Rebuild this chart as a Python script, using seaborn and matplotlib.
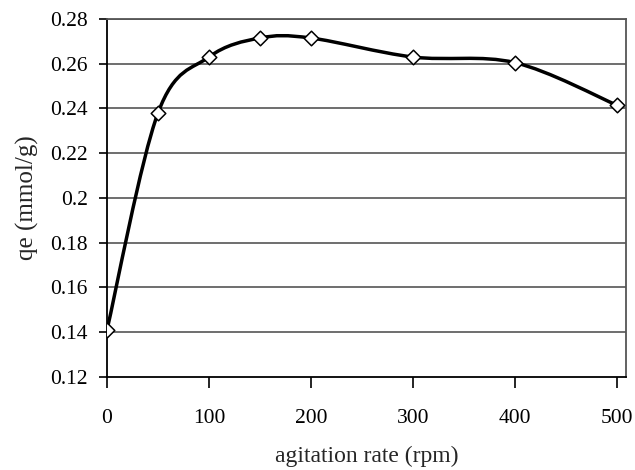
import matplotlib

matplotlib.use("Agg")
import matplotlib.pyplot as plt
import numpy as np
import pandas as pd
import seaborn as sns
from matplotlib.patches import PathPatch
from matplotlib.path import Path

# agitation rate (rpm) vs adsorption capacity qe (mmol/g)
agitation_rpm = [0, 50, 100, 150, 200, 300, 400, 500]
qe_mmol_g = [0.141, 0.238, 0.263, 0.2715, 0.2715, 0.263, 0.2605, 0.2415]
x_ticks = [0, 100, 200, 300, 400, 500]
y_ticks = [0.12, 0.14, 0.16, 0.18, 0.2, 0.22, 0.24, 0.26, 0.28]
y_tick_labels = ["0.12", "0.14", "0.16", "0.18", "0.2", "0.22", "0.24", "0.26", "0.28"]


def smooth_path(xs, ys):
    # spreadsheet-style smoothed line: cubic Bezier through each point
    pts = np.column_stack([xs, ys]).astype(float)
    n = len(pts)
    verts = [pts[0]]
    codes = [Path.MOVETO]
    for i in range(n - 1):
        prev_pt = pts[max(i - 1, 0)]
        next_pt = pts[min(i + 2, n - 1)]
        c1 = pts[i] + (pts[i + 1] - prev_pt) / 6
        c2 = pts[i + 1] - (next_pt - pts[i]) / 6
        verts += [c1, c2, pts[i + 1]]
        codes += [Path.CURVE4] * 3
    return Path(verts, codes)


df = pd.DataFrame({"rpm": agitation_rpm, "qe": qe_mmol_g})

sns.set_theme(style="white")
plt.rcParams["font.family"] = ["Liberation Serif", "DejaVu Serif"]

fig = plt.figure(figsize=(6.35, 4.7), dpi=100)
ax = fig.add_axes([0.1685, 0.198, 0.8173, 0.7616])

for y in y_ticks[1:]:
    ax.axhline(y, color="#555555", linewidth=1.2, zorder=1)

ax.add_patch(PathPatch(smooth_path(agitation_rpm, qe_mmol_g), facecolor="none",
                       edgecolor="black", linewidth=2.5, zorder=3))
sns.scatterplot(data=df, x="rpm", y="qe", ax=ax, marker="D", s=55,
                facecolor="white", edgecolor="black", linewidth=1.1, zorder=4)

ax.set_xlim(0, 509)
ax.set_ylim(0.12, 0.28)
ax.set_xticks(x_ticks)
ax.set_yticks(y_ticks)
ax.set_yticklabels(y_tick_labels)
ax.tick_params(axis="x", direction="out", length=8, width=1.2, pad=15,
               labelsize=15.5, colors="black")
ax.tick_params(axis="y", direction="out", length=6, width=1.2, pad=8,
               labelsize=15.5, colors="black")
ax.tick_params(bottom=True, left=True)

for side in ["left", "bottom"]:
    ax.spines[side].set_color("black")
    ax.spines[side].set_linewidth(1.3)
for side in ["top", "right"]:
    ax.spines[side].set_color("#555555")
    ax.spines[side].set_linewidth(1.3)

ax.set_xlabel("agitation rate (rpm)", fontsize=17, labelpad=13)
ax.set_ylabel("qe (mmol/g)", fontsize=18, labelpad=8)

fig.savefig("out.png", dpi=100)
